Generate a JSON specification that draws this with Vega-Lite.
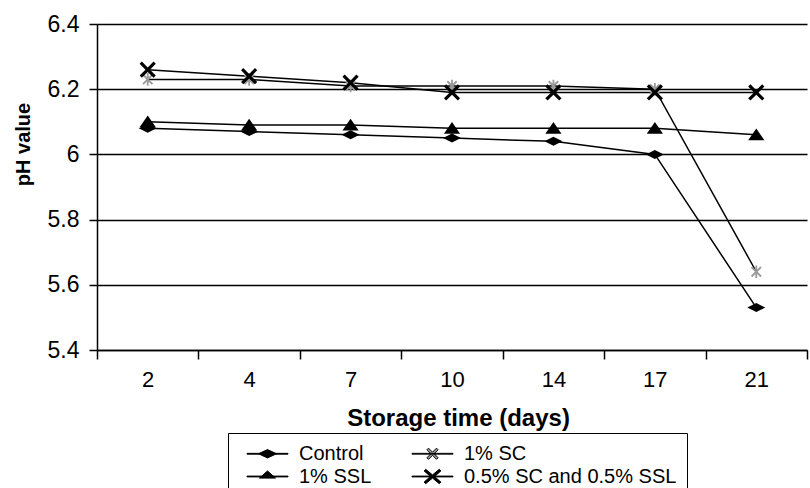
{
  "$schema": "https://vega.github.io/schema/vega-lite/v6.json",
  "width": 710,
  "height": 326,
  "autosize": {"type": "none"},
  "padding": {"left": 97, "top": 24, "right": 3, "bottom": 138},
  "background": "white",
  "config": {
    "view": {"stroke": null},
    "font": "Liberation Sans"
  },
  "data": {
    "values": [
      {"day": "2", "series": "Control", "ph": 6.08},
      {"day": "4", "series": "Control", "ph": 6.07},
      {"day": "7", "series": "Control", "ph": 6.06},
      {"day": "10", "series": "Control", "ph": 6.05},
      {"day": "14", "series": "Control", "ph": 6.04},
      {"day": "17", "series": "Control", "ph": 6.00},
      {"day": "21", "series": "Control", "ph": 5.53},
      {"day": "2", "series": "1% SC", "ph": 6.23},
      {"day": "4", "series": "1% SC", "ph": 6.23},
      {"day": "7", "series": "1% SC", "ph": 6.21},
      {"day": "10", "series": "1% SC", "ph": 6.21},
      {"day": "14", "series": "1% SC", "ph": 6.21},
      {"day": "17", "series": "1% SC", "ph": 6.20},
      {"day": "21", "series": "1% SC", "ph": 5.64},
      {"day": "2", "series": "1% SSL", "ph": 6.10},
      {"day": "4", "series": "1% SSL", "ph": 6.09},
      {"day": "7", "series": "1% SSL", "ph": 6.09},
      {"day": "10", "series": "1% SSL", "ph": 6.08},
      {"day": "14", "series": "1% SSL", "ph": 6.08},
      {"day": "17", "series": "1% SSL", "ph": 6.08},
      {"day": "21", "series": "1% SSL", "ph": 6.06},
      {"day": "2", "series": "0.5% SC and 0.5% SSL", "ph": 6.26},
      {"day": "4", "series": "0.5% SC and 0.5% SSL", "ph": 6.24},
      {"day": "7", "series": "0.5% SC and 0.5% SSL", "ph": 6.22},
      {"day": "10", "series": "0.5% SC and 0.5% SSL", "ph": 6.19},
      {"day": "14", "series": "0.5% SC and 0.5% SSL", "ph": 6.19},
      {"day": "17", "series": "0.5% SC and 0.5% SSL", "ph": 6.19},
      {"day": "21", "series": "0.5% SC and 0.5% SSL", "ph": 6.19}
    ]
  },
  "encoding": {
    "x": {
      "field": "day",
      "type": "ordinal",
      "sort": ["2", "4", "7", "10", "14", "17", "21"],
      "scale": {"type": "band", "paddingInner": 0, "paddingOuter": 0},
      "axis": {
        "title": "Storage time (days)",
        "titleFontSize": 24,
        "titleFontWeight": "bold",
        "titleColor": "black",
        "titleX": 361,
        "titleY": 75,
        "titleBaseline": "alphabetic",
        "titleAnchor": null,
        "labelAngle": 0,
        "labelFontSize": 22,
        "labelColor": "black",
        "labelBaseline": "alphabetic",
        "labelPadding": 27,
        "tickBand": "extent",
        "tickSize": 9,
        "tickColor": "black",
        "tickWidth": 1.5,
        "domainColor": "black",
        "domainWidth": 1.5,
        "grid": false
      }
    },
    "y": {
      "field": "ph",
      "type": "quantitative",
      "scale": {"domain": [5.4, 6.4], "nice": false, "zero": false},
      "axis": {
        "title": "pH value",
        "titleFontSize": 20,
        "titleFontWeight": "bold",
        "titleColor": "black",
        "titleAngle": 270,
        "titleX": -74,
        "titleY": 120,
        "titleAlign": "center",
        "titleBaseline": "middle",
        "titleAnchor": null,
        "values": [5.4, 5.6, 5.8, 6, 6.2, 6.4],
        "format": ".1~f",
        "labelFontSize": 23,
        "labelColor": "black",
        "labelPadding": 10,
        "tickSize": 8,
        "tickColor": "black",
        "tickWidth": 1.5,
        "domainColor": "black",
        "domainWidth": 1.5,
        "grid": true,
        "gridColor": "black",
        "gridWidth": 1.5,
        "gridOpacity": 1
      }
    }
  },
  "layer": [
    {
      "mark": {"type": "line", "color": "black", "strokeWidth": 1.5},
      "encoding": {"detail": {"field": "series"}}
    },
    {
      "mark": {"type": "point", "filled": true, "size": 324, "opacity": 1, "strokeWidth": 0},
      "encoding": {
        "shape": {
          "field": "series",
          "type": "nominal",
          "legend": null,
          "scale": {
            "domain": ["Control", "1% SC", "1% SSL", "0.5% SC and 0.5% SSL"],
            "range": [
              "M-1,0L0,-0.5L1,0L0,0.5Z",
              "M-0.6,-0.45L-0.45,-0.6L0,-0.15L0.45,-0.6L0.6,-0.45L0.15,0L0.6,0.45L0.45,0.6L0,0.15L-0.45,0.6L-0.6,0.45L-0.15,0Z M-0.1,-0.7H0.1V0.7H-0.1Z",
              "M-0.9,0.6L0,-0.7L0.9,0.6Z",
              "M-0.9,-0.65L-0.65,-0.9L0,-0.25L0.65,-0.9L0.9,-0.65L0.25,0L0.9,0.65L0.65,0.9L0,0.25L-0.65,0.9L-0.9,0.65L-0.25,0Z"
            ]
          }
        },
        "color": {
          "field": "series",
          "type": "nominal",
          "legend": null,
          "scale": {
            "domain": ["Control", "1% SC", "1% SSL", "0.5% SC and 0.5% SSL"],
            "range": ["black", "#9a9a9a", "black", "black"]
          }
        }
      }
    },
    {
      "transform": [{"filter": "datum.ph > 100"}],
      "mark": {"type": "point", "filled": true, "size": 400, "opacity": 1, "stroke": "black", "strokeWidth": 1},
      "encoding": {
        "shape": {
          "field": "series",
          "type": "nominal",
          "scale": {
            "domain": ["Control", "1% SC", "1% SSL", "0.5% SC and 0.5% SSL"],
            "range": [
              "M-2.05,-0.04H2.05V0.04H-2.05Z M-0.9,0L0,-0.42L0.9,0L0,0.42Z",
              "M-2.05,-0.04H2.05V0.04H-2.05Z M-0.56,-0.4L-0.4,-0.56L0,-0.16L0.4,-0.56L0.56,-0.4L0.16,0L0.56,0.4L0.4,0.56L0,0.16L-0.4,0.56L-0.56,0.4L-0.16,0Z",
              "M-2.05,-0.04H2.05V0.04H-2.05Z M-0.8,0.16L0,-0.56L0.8,0.16Z",
              "M-2.05,-0.04H2.05V0.04H-2.05Z M-0.84,-0.56L-0.68,-0.72L0,-0.16L0.68,-0.72L0.84,-0.56L0.2,0L0.84,0.56L0.68,0.72L0,0.16L-0.68,0.72L-0.84,0.56L-0.2,0Z"
            ]
          },
          "legend": {
            "title": null,
            "orient": "none",
            "legendX": 131,
            "legendY": 409,
            "direction": "horizontal",
            "columns": 2,
            "strokeColor": "black",
            "padding": 10,
            "symbolOffset": 19,
            "symbolSize": 400,
            "symbolStrokeColor": "black",
            "symbolStrokeWidth": 1,
            "labelFontSize": 20,
            "labelColor": "black",
            "labelOffset": 21,
            "labelLimit": 0,
            "columnPadding": 31,
            "rowPadding": 2
          }
        },
        "color": {
          "field": "series",
          "type": "nominal",
          "scale": {
            "domain": ["Control", "1% SC", "1% SSL", "0.5% SC and 0.5% SSL"],
            "range": ["black", "#9a9a9a", "black", "black"]
          },
          "legend": {
            "title": null,
            "orient": "none",
            "legendX": 131,
            "legendY": 409,
            "direction": "horizontal",
            "columns": 2
          }
        }
      }
    }
  ],
  "resolve": {"scale": {"shape": "independent", "color": "independent"}}
}
